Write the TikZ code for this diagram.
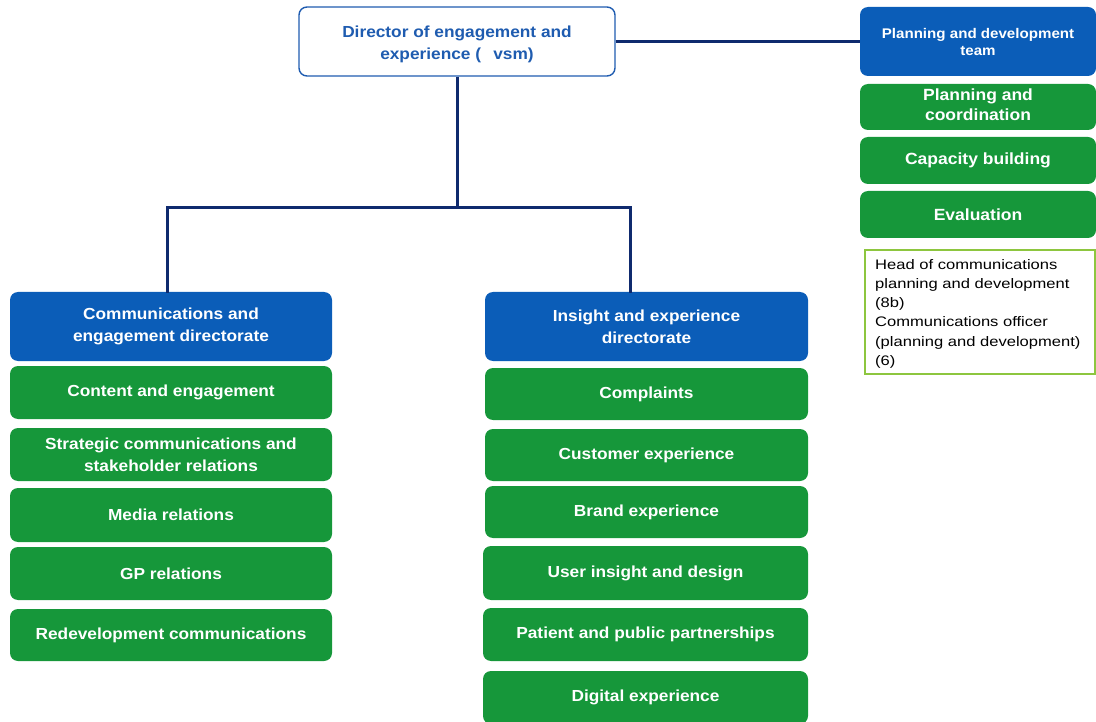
\documentclass[tikz,border=0pt]{standalone}
\usepackage{fontspec}
\setmainfont{Liberation Sans}
\newfontfamily\boxfont{Liberation Sans}[FakeStretch=1.08]
\newfontfamily\notefont{Liberation Sans}[FakeStretch=1.2]
\definecolor{unitblue}{HTML}{0B5DB8}
\definecolor{teamgreen}{HTML}{16973A}
\definecolor{linknavy}{HTML}{0F2A6E}
\definecolor{headblue}{HTML}{1F5CB0}
\definecolor{noteframe}{HTML}{8DC63F}
\tikzset{
  boxbase/.style={rectangle, rounded corners=8pt, align=center, inner sep=0pt,
    font=\boxfont\bfseries\fontsize{16}{22}\selectfont},
  headbox/.style={boxbase, draw=headblue, line width=1.4pt, fill=white, text=headblue},
  unitbox/.style={boxbase, fill=unitblue, text=white},
  teambox/.style={boxbase, fill=teamgreen, text=white},
  notebox/.style={rectangle, draw=noteframe, line width=2pt, fill=white},
  notetext/.style={align=left, inner sep=0pt, anchor=north west,
    font=\notefont\fontsize{13.8}{19.2}\selectfont},
  conn/.style={draw=linknavy, line width=3pt}
}
\begin{document}
\begin{tikzpicture}[x=1pt,y=-1pt]
\useasboundingbox (0,0) rectangle (1096,722);

% top level
\node[headbox, minimum width=316pt, minimum height=69pt] (dir) at (457,41.5)
  {\rule{0pt}{17pt}Director of engagement and\\experience (\ \ \,vsm)};

% planning and development team (right)
\node[unitbox, minimum width=236pt, minimum height=69pt,
  font=\boxfont\bfseries\fontsize{14}{17}\selectfont] (pdt) at (978,41.5)
  {Planning and development\\team};
\node[teambox, minimum width=236pt, minimum height=46pt,
  font=\boxfont\bfseries\fontsize{16.2}{20}\selectfont] (pc) at (978,107)
  {Planning and\\coordination\rule[-4pt]{0pt}{1pt}};
\node[teambox, minimum width=236pt, minimum height=47pt,
  font=\boxfont\bfseries\fontsize{16.2}{20}\selectfont] (cb) at (978,160.5)
  {Capacity building};
\node[teambox, minimum width=236pt, minimum height=47pt,
  font=\boxfont\bfseries\fontsize{16.2}{20}\selectfont] (ev) at (978,214.5)
  {Evaluation};
\node[notebox, minimum width=230pt, minimum height=124pt] (notes) at (980,312) {};
\node[notetext] (notelines) at (875,259)
  {Head of communications\\planning and development\\(8b)\\Communications officer\\(planning and development)\\(6)};

% communications and engagement directorate (left)
\node[unitbox, minimum width=322pt, minimum height=69pt] (ced) at (171,326.5)
  {Communications and\\engagement directorate};
\node[teambox, minimum width=322pt, minimum height=53pt] (ce) at (171,392.5)
  {Content and engagement};
\node[teambox, minimum width=322pt, minimum height=53pt] (sc) at (171,454.5)
  {Strategic communications and\\stakeholder relations};
\node[teambox, minimum width=322pt, minimum height=54pt] (mr) at (171,515)
  {Media relations};
\node[teambox, minimum width=322pt, minimum height=53pt] (gp) at (171,573.5)
  {GP relations};
\node[teambox, minimum width=322pt, minimum height=52pt] (rd) at (171,635)
  {Redevelopment communications};

% insight and experience directorate (middle)
\node[unitbox, minimum width=323pt, minimum height=69pt] (ied) at (646.5,326.5)
  {Insight and experience\\directorate};
\node[teambox, minimum width=323pt, minimum height=52pt] (co) at (646.5,394)
  {Complaints};
\node[teambox, minimum width=323pt, minimum height=52pt] (cx) at (646.5,455)
  {Customer experience};
\node[teambox, minimum width=323pt, minimum height=52pt] (be) at (646.5,512)
  {Brand experience};
\node[teambox, minimum width=325pt, minimum height=54pt] (ui) at (645.5,573)
  {User insight and design};
\node[teambox, minimum width=325pt, minimum height=53pt] (pp) at (645.5,634.5)
  {Patient and public partnerships};
\node[teambox, minimum width=325pt, minimum height=53pt] (dx) at (645.5,697.5)
  {Digital experience};

% reporting lines
\coordinate (bus) at (457,208);
\draw[conn] (dir.east) -- (pdt.west);
\draw[conn] (dir.south) -- (bus);
\draw[conn, line cap=rect] ([xshift=-4pt]ced.north) |- (bus) -| ([xshift=-16pt]ied.north);
\end{tikzpicture}
\end{document}
